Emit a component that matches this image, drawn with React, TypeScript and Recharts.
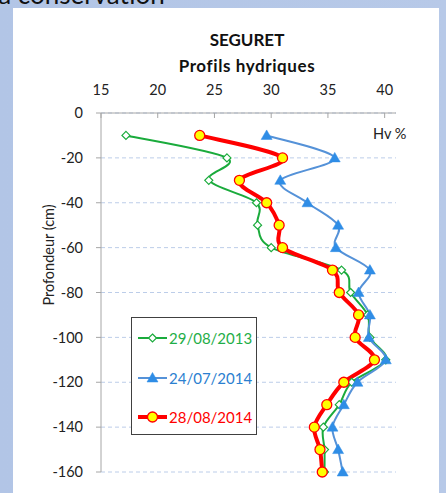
import React from "react";
import { LineChart, Line, XAxis, YAxis, CartesianGrid } from "recharts";

const depths = [-10, -20, -30, -40, -50, -60, -70, -80, -90, -100, -110, -120, -130, -140, -150, -160];
const hv2013 = [17.2, 26.1, 24.5, 28.7, 28.8, 30.0, 36.2, 37.0, 38.5, 38.7, 40.1, 37.1, 36.0, 34.6, 34.7, 34.7];
const hv2014Jul = [29.6, 35.6, 30.8, 33.2, 35.9, 35.7, 38.7, 37.7, 38.7, 38.6, 40.1, 37.6, 36.4, 35.4, 35.9, 36.3];
const hv2014Aug = [23.7, 31.0, 27.2, 29.6, 30.7, 31.0, 35.4, 36.0, 37.7, 37.4, 39.1, 36.4, 34.9, 33.8, 34.3, 34.5];
const xTicks = [15, 20, 25, 30, 35, 40];
const yTicks = [0, -20, -40, -60, -80, -100, -120, -140, -160];
const seriesNames = ["29/08/2013", "24/07/2014", "28/08/2014"];

const data = depths.map((d, i) => ({
  depth: d,
  a: hv2013[i],
  b: hv2014Jul[i],
  c: hv2014Aug[i],
}));

const FONT = "Lato, 'Noto Sans', sans-serif";
const GREEN = "#1aab3c";
const BLUE_LINE = "#5592d8";
const BLUE_MARK = "#2f8de6";
const RED = "#ff0000";

// Excel-like smoothing (Catmull-Rom style Bezier)
function excelCurve(context: any) {
  let pts: number[][] = [];
  return {
    areaStart() {},
    areaEnd() {},
    lineStart() {
      pts = [];
    },
    point(x: number, y: number) {
      pts.push([+x, +y]);
    },
    lineEnd() {
      if (!pts.length) return;
      context.moveTo(pts[0][0], pts[0][1]);
      for (let i = 0; i < pts.length - 1; i++) {
        const p0 = pts[i - 1] || pts[i];
        const p1 = pts[i];
        const p2 = pts[i + 1];
        const p3 = pts[i + 2] || p2;
        const c1x = p1[0] + (p2[0] - p0[0]) / 6;
        const c1y = p1[1] + (p2[1] - p0[1]) / 6;
        const c2x = p2[0] - (p3[0] - p1[0]) / 6;
        const c2y = p2[1] - (p3[1] - p1[1]) / 6;
        context.bezierCurveTo(c1x, c1y, c2x, c2y, p2[0], p2[1]);
      }
    },
  };
}

const Diamond = ({ cx, cy }: any) => (
  <path
    d={`M${cx},${cy - 4} L${cx + 4},${cy} L${cx},${cy + 4} L${cx - 4},${cy} Z`}
    fill="#ffffff"
    stroke={GREEN}
    strokeWidth={1.2}
  />
);
const Triangle = ({ cx, cy }: any) => (
  <path
    d={`M${cx},${cy - 5.5} L${cx + 5.5},${cy + 4} L${cx - 5.5},${cy + 4} Z`}
    fill={BLUE_MARK}
    stroke={BLUE_MARK}
    strokeWidth={0.5}
  />
);
const Circle = ({ cx, cy }: any) => (
  <circle cx={cx} cy={cy} r={5} fill="#ffff00" stroke={RED} strokeWidth={1.3} />
);

const dotA = (p: any) => <Diamond key={`a-${p.index}`} cx={p.cx} cy={p.cy} />;
const dotB = (p: any) => <Triangle key={`b-${p.index}`} cx={p.cx} cy={p.cy} />;
const dotC = (p: any) => <Circle key={`c-${p.index}`} cx={p.cx} cy={p.cy} />;

const legendItems = [
  { name: seriesNames[0], color: GREEN, text: "#1fae48", width: 2, Mark: Diamond },
  { name: seriesNames[1], color: BLUE_LINE, text: "#2b80d0", width: 2, Mark: Triangle },
  { name: seriesNames[2], color: RED, text: RED, width: 4, Mark: Circle },
];

export default function App() {
  return (
    <div
      style={{
        position: "absolute",
        left: 0,
        top: 0,
        width: 446,
        height: 493,
        overflow: "hidden",
        background: "linear-gradient(90deg, #b2c5e6 0%, #b7c9e8 100%)",
        fontFamily: FONT,
      }}
    >
      <div
        style={{
          position: "absolute",
          left: -8,
          top: -19,
          fontSize: 26,
          lineHeight: "26px",
          color: "#111",
          whiteSpace: "nowrap",
        }}
      >
        la conservation
      </div>
      <div
        style={{
          position: "absolute",
          left: 13,
          top: 8,
          width: 426,
          height: 490,
          background: "#ffffff",
        }}
      >
        <LineChart
          width={426}
          height={485}
          data={data}
          layout="vertical"
          margin={{ top: 70, right: 43, bottom: 21, left: 0 }}
        >
          <CartesianGrid
            vertical={false}
            horizontal={true}
            stroke="#bccde9"
            strokeDasharray="4 3"
          />
          <XAxis
            type="number"
            orientation="top"
            domain={[15, 41]}
            ticks={xTicks}
            height={35}
            tickSize={-5}
            tickMargin={23}
            stroke="#a6a6a6"
            tick={{ fill: "#222", fontSize: 14.5, fontFamily: FONT }}
            allowDataOverflow
          />
          <YAxis
            type="number"
            dataKey="depth"
            domain={[-160, 0]}
            ticks={yTicks}
            reversed
            width={88}
            tickSize={5}
            tickMargin={13}
            stroke="#a6a6a6"
            tick={{ fill: "#222", fontSize: 14.5, fontFamily: FONT }}
          />
          <Line
            type={excelCurve as any}
            dataKey="a"
            name={seriesNames[0]}
            stroke={GREEN}
            strokeWidth={2}
            dot={dotA}
            activeDot={false}
            isAnimationActive={false}
          />
          <Line
            type={excelCurve as any}
            dataKey="b"
            name={seriesNames[1]}
            stroke={BLUE_LINE}
            strokeWidth={2}
            dot={dotB}
            activeDot={false}
            isAnimationActive={false}
          />
          <Line
            type={excelCurve as any}
            dataKey="c"
            name={seriesNames[2]}
            stroke={RED}
            strokeWidth={4}
            dot={dotC}
            activeDot={false}
            isAnimationActive={false}
          />
        </LineChart>
      </div>

      {/* Title */}
      <div
        style={{
          position: "absolute",
          left: 147,
          width: 200,
          top: 29,
          textAlign: "center",
          fontWeight: 700,
          fontSize: 17,
          lineHeight: "22px",
          color: "#111",
        }}
      >
        SEGURET
      </div>
      <div
        style={{
          position: "absolute",
          left: 137,
          width: 220,
          top: 55,
          textAlign: "center",
          fontWeight: 700,
          fontSize: 17,
          letterSpacing: 0.6,
          lineHeight: "22px",
          color: "#111",
        }}
      >
        Profils hydriques
      </div>

      {/* Hv % */}
      <div
        style={{
          position: "absolute",
          left: 373,
          top: 124,
          fontSize: 14.5,
          lineHeight: "20px",
          color: "#222",
          whiteSpace: "nowrap",
        }}
      >
        Hv %
      </div>

      {/* Y axis title */}
      <div
        style={{
          position: "absolute",
          left: 49 - 70,
          top: 255 - 10,
          width: 140,
          height: 20,
          lineHeight: "20px",
          textAlign: "center",
          fontSize: 14.5,
          color: "#222",
          transform: "rotate(-90deg)",
          whiteSpace: "nowrap",
        }}
      >
        Profondeur (cm)
      </div>

      {/* Legend */}
      <div
        style={{
          position: "absolute",
          left: 131,
          top: 317,
          width: 124,
          height: 116,
          border: "1px solid #404040",
          background: "#ffffff",
        }}
      >
        {legendItems.map((it, i) => (
          <div
            key={it.name}
            style={{
              position: "absolute",
              left: 5,
              top: 9 + i * 39.7,
              height: 22,
              display: "flex",
              alignItems: "center",
            }}
          >
            <svg width={30} height={22} style={{ display: "block" }}>
              <line x1={1} y1={11} x2={30} y2={11} stroke={it.color} strokeWidth={it.width} />
              <it.Mark cx={15.5} cy={11} />
            </svg>
            <span
              style={{
                marginLeft: 2,
                fontSize: 15,
                color: it.text,
                whiteSpace: "nowrap",
              }}
            >
              {it.name}
            </span>
          </div>
        ))}
      </div>
    </div>
  );
}
